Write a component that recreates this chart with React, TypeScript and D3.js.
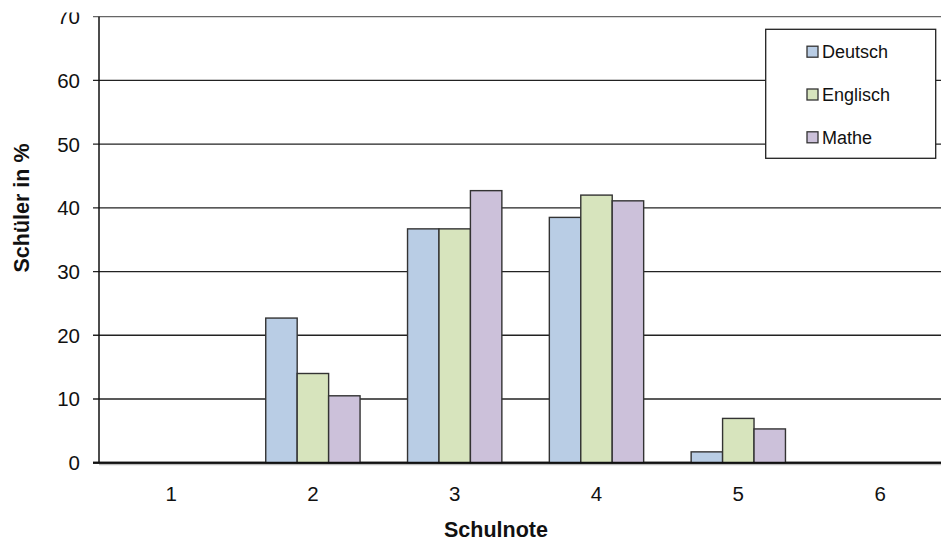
import React from "react";
import * as d3 from "d3";

const categories = ["1", "2", "3", "4", "5", "6"];
const seriesNames = ["Deutsch", "Englisch", "Mathe"];
const deutsch = [0, 22.7, 36.7, 38.5, 1.7, 0];
const englisch = [0, 14.0, 36.7, 42.0, 6.95, 0];
const mathe = [0, 10.5, 42.7, 41.1, 5.3, 0];
const yTicks = [0, 10, 20, 30, 40, 50, 60, 70];
const colors = ["#B9CDE5", "#D7E4BD", "#CCC1DA"];

const W = 941;
const H = 540;
const FONT = "'Liberation Sans', Arial, sans-serif";

export default function App() {
  const values = [deutsch, englisch, mathe];
  const x0 = d3.scaleBand<string>().domain(categories).range([100.2, 951]).padding(0);
  const x1 = d3
    .scaleBand<string>()
    .domain(seriesNames)
    .range([0, x0.bandwidth()])
    .paddingInner(0)
    .paddingOuter(0.755);
  const y = d3.scaleLinear().domain([0, 70]).range([462.7, 16.7]);
  const axisX = 99;

  return (
    <svg
      width={W}
      height={H}
      style={{ position: "absolute", left: 0, top: 0, background: "#fff" }}
      fontFamily={FONT}
    >
      <defs>
        <clipPath id="tickClip">
          <rect x={0} y={12.5} width={W} height={H} />
        </clipPath>
      </defs>
      {/* gridlines */}
      {yTicks.map((t) => (
        <line
          key={"g" + t}
          x1={axisX - 6}
          x2={W}
          y1={y(t)}
          y2={y(t)}
          stroke={t === 70 ? "#666" : "#222"}
          strokeWidth={t === 0 ? 2 : 1.3}
        />
      ))}
      {/* baseline shadow */}
      <line x1={axisX} x2={W} y1={y(0) + 2} y2={y(0) + 2} stroke="#bbb" strokeWidth={1.2} />
      {/* y tick labels */}
      <g clipPath="url(#tickClip)">
        {yTicks.map((t) => (
          <text
            key={"t" + t}
            x={80}
            y={y(t)}
            dy="0.36em"
            textAnchor="end"
            fontSize={20.5}
            fill="#111"
          >
            {t}
          </text>
        ))}
      </g>
      {/* bars */}
      {categories.map((c, i) => (
        <g key={"c" + c} transform={`translate(${x0(c)},0)`}>
          {seriesNames.map((s, j) => {
            const v = values[j][i];
            if (v <= 0) return null;
            return (
              <rect
                key={s}
                x={x1(s)}
                y={y(v)}
                width={x1.bandwidth()}
                height={y(0) - y(v)}
                fill={colors[j]}
                stroke="#333"
                strokeWidth={1.4}
              />
            );
          })}
        </g>
      ))}
      {/* y axis line */}
      <line x1={axisX} x2={axisX} y1={y(70)} y2={y(0)} stroke="#111" strokeWidth={1.5} />
      {/* baseline on top */}
      <line x1={axisX - 6} x2={W} y1={y(0)} y2={y(0)} stroke="#111" strokeWidth={2} />
      {/* x tick labels */}
      {categories.map((c) => (
        <text
          key={"x" + c}
          x={(x0(c) as number) + x0.bandwidth() / 2}
          y={501}
          textAnchor="middle"
          fontSize={20.5}
          fill="#111"
        >
          {c}
        </text>
      ))}
      {/* axis titles */}
      <text x={496} y={536.5} textAnchor="middle" fontSize={21.5} fontWeight="bold" fill="#111">
        Schulnote
      </text>
      <text
        transform={`translate(29,208) rotate(-90)`}
        textAnchor="middle"
        fontSize={21.5}
        fontWeight="bold"
        fill="#111"
      >
        Schüler in %
      </text>
      {/* legend */}
      <rect x={765.7} y={29.3} width={170} height={129} fill="#fff" stroke="#222" strokeWidth={1.3} />
      {seriesNames.map((s, j) => {
        const cy = 51.7 + j * 42.8;
        return (
          <g key={"l" + s}>
            <rect x={807} y={cy - 5.5} width={11} height={11} fill={colors[j]} stroke="#333" strokeWidth={1.3} />
            <text x={822} y={cy} dy="0.36em" fontSize={18} fill="#111">
              {s}
            </text>
          </g>
        );
      })}
    </svg>
  );
}
